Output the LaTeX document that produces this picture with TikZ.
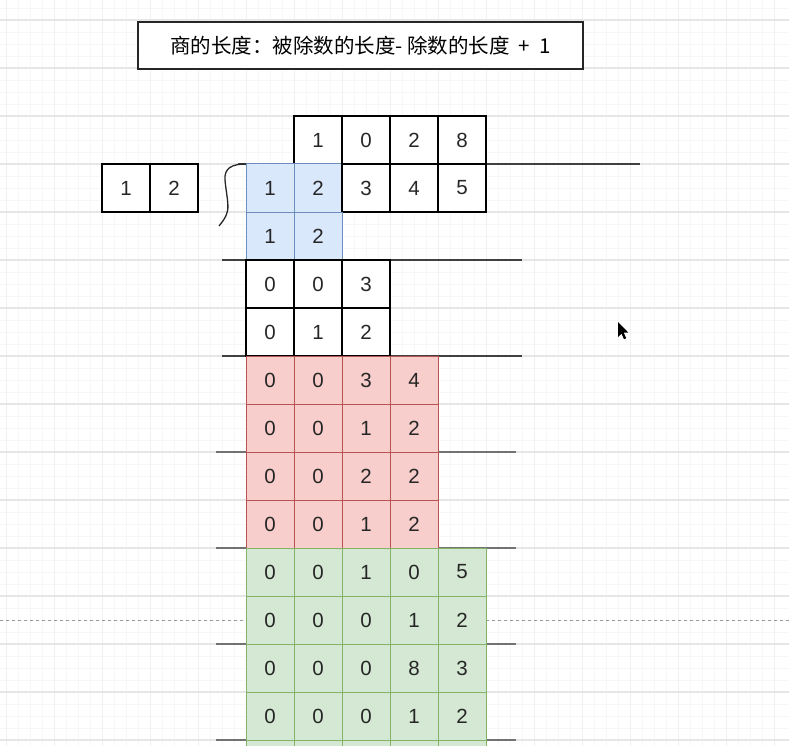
\documentclass[tikz,border=0pt]{standalone}
\usepackage{fontspec}
\setmainfont{Liberation Sans}
\newfontfamily\cjk{Noto Sans CJK SC}
\definecolor{gridmaj}{HTML}{E6E6E6}
\definecolor{gridmin}{HTML}{F7F7F7}
\definecolor{bluefill}{HTML}{DAE8FC}
\definecolor{bluedraw}{HTML}{6C8EBF}
\definecolor{redfill}{HTML}{F8CECC}
\definecolor{reddraw}{HTML}{B85450}
\definecolor{greenfill}{HTML}{D5E8D4}
\definecolor{greendraw}{HTML}{82B366}
\tikzset{
  cell/.style={minimum width=48pt,minimum height=48pt,inner sep=0pt,outer sep=0pt,font=\fontsize{20.5}{20.5}\selectfont,text=black!85},
  cellw/.style={cell,draw=black,fill=white,line width=1.2pt},
  cellb/.style={cell,draw=bluedraw,fill=bluefill,line width=1pt},
  cellr/.style={cell,draw=reddraw,fill=redfill,line width=1pt},
  cellg/.style={cell,draw=greendraw,fill=greenfill,line width=1pt},
  ruledark/.style={draw=black!75,line width=1.3pt},
  rulegray/.style={draw=black!55,line width=1.2pt},
}
\begin{document}
\begin{tikzpicture}[x=1pt,y=-1pt]
\useasboundingbox (0,0) rectangle (789,746);
\clip (0,0) rectangle (789,746);
\fill[white] (0,0) rectangle (789,746);
% background grid
\foreach \x in {0,12,...,789} \draw[gridmin,line width=0.5pt] (\x-6,0) -- (\x-6,746);
\foreach \y in {8,20,...,746} \draw[gridmin,line width=0.5pt] (0,\y) -- (789,\y);
\foreach \x in {6,54,...,789} \draw[gridmaj!60,line width=1pt] (\x,0) -- (\x,746);
\foreach \y in {20,68,...,746} \draw[gridmaj,line width=1.2pt] (0,\y) -- (789,\y);
% dotted line
\coordinate (dl) at (0,620);
\coordinate (dr) at (789,620);
\draw[black!40,dash pattern=on 3pt off 3pt,line width=0.8pt] (dl) -- (dr);
% title
\node[draw=black!85,line width=1.2pt,fill=white,minimum width=445pt,minimum height=47pt,inner sep=0pt,font=\cjk\fontsize{20.5}{20.5}\selectfont] (title) at (360.5,45.5) {商的长度：被除数的长度-\ 除数的长度\ \ +\ \ 1};
% horizontal rules
\coordinate (l1a) at (238,164); \coordinate (l1b) at (640,164);
\draw[ruledark] (l1a) -- (l1b);
\coordinate (l2a) at (222,260); \coordinate (l2b) at (522,260);
\draw[ruledark] (l2a) -- (l2b);
\coordinate (l3a) at (222,356); \coordinate (l3b) at (522,356);
\draw[ruledark] (l3a) -- (l3b);
\foreach \y in {452,548,644,740}{
  \coordinate (ga\y) at (216,\y); \coordinate (gb\y) at (516,\y);
  \draw[rulegray] (ga\y) -- (gb\y);
}
% divisor
\node[cellw] (d1) at (126,188) {1};
\node[cellw] (d2) at (174,188) {2};
% quotient
\node[cellw] (q1) at (318,140) {1};
\node[cellw] (q2) at (366,140) {0};
\node[cellw] (q3) at (414,140) {2};
\node[cellw] (q4) at (462,140) {8};
% dividend row
\node[cellb] (a0) at (270,188) {1};
\node[cellb] (a1) at (318,188) {2};
\node[cellw] (a2) at (366,188) {3};
\node[cellw] (a3) at (414,188) {4};
\node[cellw] (a4) at (462,188) {5};
% blue row
\node[cellb] (b0) at (270,236) {1};
\node[cellb] (b1) at (318,236) {2};
% white rows
\node[cellw] (c0) at (270,284) {0};
\node[cellw] (c1) at (318,284) {0};
\node[cellw] (c2) at (366,284) {3};
\node[cellw] (e0) at (270,332) {0};
\node[cellw] (e1) at (318,332) {1};
\node[cellw] (e2) at (366,332) {2};
% red rows
\foreach \r/\vals in {0/{0,0,3,4},1/{0,0,1,2},2/{0,0,2,2},3/{0,0,1,2}}{
  \foreach \v [count=\j from 0] in \vals {
    \node[cellr] (red\r\j) at (270+48*\j,380+48*\r) {\v};
  }
}
% green rows
\foreach \r/\vals in {0/{0,0,1,0,5},1/{0,0,0,1,2},2/{0,0,0,8,3},3/{0,0,0,1,2},4/{,,,,}}{
  \foreach \v [count=\j from 0] in \vals {
    \node[cellg] (grn\r\j) at (270+48*\j,572+48*\r) {\v};
  }
}
% division bracket
\draw[black!85,line width=1.3pt] (a0.north west) .. controls (232,164) and (224,168) .. (225,180) .. controls (226,192) and (229,204) .. (227.5,211) .. controls (226,218) and (222,222) .. (219,226);
% mouse cursor
\fill[black] (618,322) -- (618,337) -- (621.5,333.6) -- (624,339.2) -- (626.2,338.2) -- (623.7,332.7) -- (628.4,332.7) -- cycle;
\end{tikzpicture}
\end{document}
